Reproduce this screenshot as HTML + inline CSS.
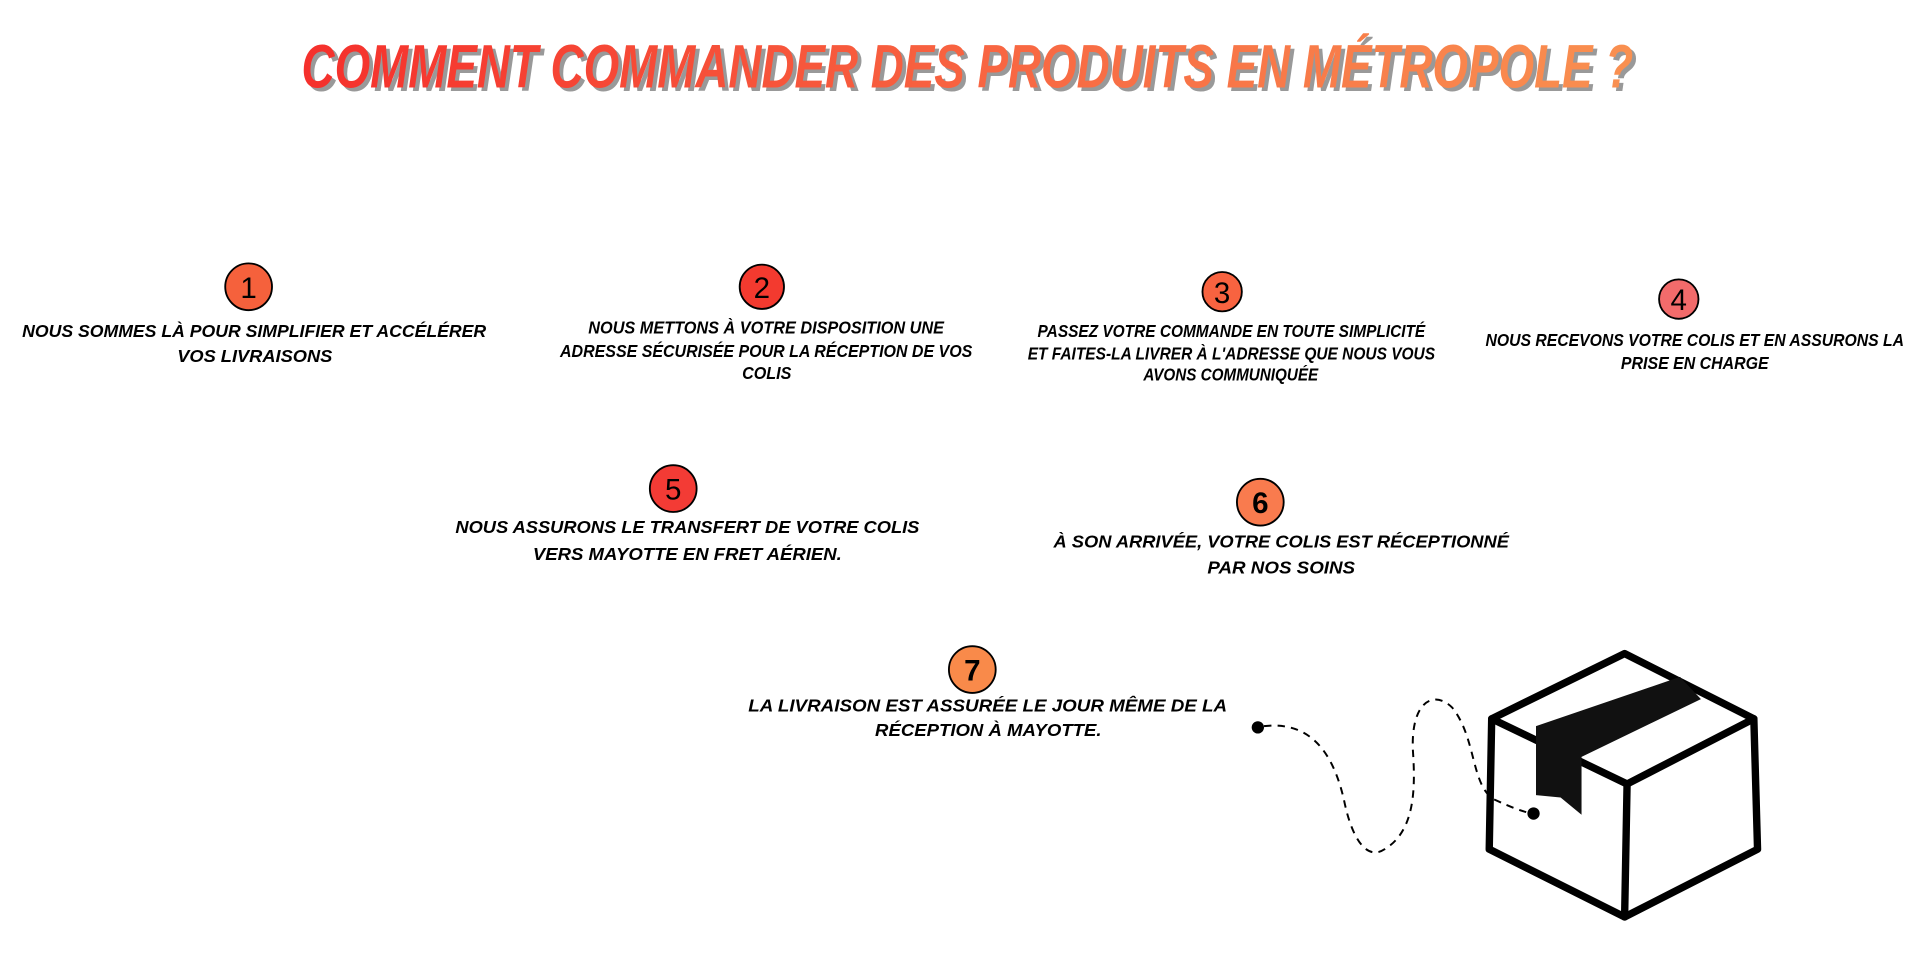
<!DOCTYPE html>
<html><head><meta charset="utf-8"><style>
html,body{margin:0;padding:0;background:#fff;width:1920px;height:960px;overflow:hidden}
svg{display:block}
.t{font-family:"Liberation Sans",sans-serif;font-weight:bold;font-style:italic;font-size:14px;fill:#000}
.n{font-family:"Liberation Sans",sans-serif;font-size:24px;fill:#000;text-anchor:middle}
</style></head><body>
<svg width="1920" height="960" viewBox="0 0 1560 780" preserveAspectRatio="none">
<defs>
<linearGradient id="g" x1="0" x2="1" y1="0" y2="0">
<stop offset="0" stop-color="#f5302c"/><stop offset="0.6" stop-color="#f86e45"/><stop offset="1" stop-color="#f99050"/>
</linearGradient>
</defs>
<text x="248" y="74" font-family="Liberation Sans,sans-serif" font-weight="bold" font-style="italic" font-size="50" fill="#999" textLength="1082" lengthAdjust="spacingAndGlyphs">COMMENT COMMANDER DES PRODUITS EN MÉTROPOLE ?</text>
<text x="245" y="71" font-family="Liberation Sans,sans-serif" font-weight="bold" font-style="italic" font-size="50" fill="url(#g)" textLength="1082" lengthAdjust="spacingAndGlyphs">COMMENT COMMANDER DES PRODUITS EN MÉTROPOLE ?</text>

<g stroke="#000" stroke-width="1.5">
<circle cx="202" cy="233" r="19" fill="#f5613c"/>
<circle cx="619" cy="233" r="18" fill="#f33a2f"/>
<circle cx="993" cy="237" r="16" fill="#f86340"/>
<circle cx="1364" cy="243" r="16" fill="#f26b6b"/>
<circle cx="547" cy="397" r="19" fill="#f33b35"/>
<circle cx="1024" cy="408" r="19" fill="#f97b4e"/>
<circle cx="790" cy="544" r="19" fill="#f98a4a"/>
</g>
<text class="n" x="202" y="242">1</text>
<text class="n" x="619" y="242">2</text>
<text class="n" x="993" y="246">3</text>
<text class="n" x="1364" y="252">4</text>
<text class="n" x="547" y="406">5</text>
<text class="n" x="1024" y="417" font-weight="bold">6</text>
<text class="n" x="790" y="553" font-weight="bold">7</text>

<text class="t" x="18" y="274" textLength="377" lengthAdjust="spacingAndGlyphs">NOUS SOMMES LÀ POUR SIMPLIFIER ET ACCÉLÉRER</text>
<text class="t" x="144" y="294" textLength="126" lengthAdjust="spacingAndGlyphs">VOS LIVRAISONS</text>
<text class="t" x="478" y="271" textLength="289" lengthAdjust="spacingAndGlyphs">NOUS METTONS À VOTRE DISPOSITION UNE</text>
<text class="t" x="455" y="290" textLength="335" lengthAdjust="spacingAndGlyphs">ADRESSE SÉCURISÉE POUR LA RÉCEPTION DE VOS</text>
<text class="t" x="603" y="308" textLength="40" lengthAdjust="spacingAndGlyphs">COLIS</text>
<text class="t" x="843" y="274" textLength="315" lengthAdjust="spacingAndGlyphs">PASSEZ VOTRE COMMANDE EN TOUTE SIMPLICITÉ</text>
<text class="t" x="835" y="292" textLength="331" lengthAdjust="spacingAndGlyphs">ET FAITES-LA LIVRER À L'ADRESSE QUE NOUS VOUS</text>
<text class="t" x="929" y="309" textLength="142" lengthAdjust="spacingAndGlyphs">AVONS COMMUNIQUÉE</text>
<text class="t" x="1207" y="281" textLength="340" lengthAdjust="spacingAndGlyphs">NOUS RECEVONS VOTRE COLIS ET EN ASSURONS LA</text>
<text class="t" x="1317" y="300" textLength="120" lengthAdjust="spacingAndGlyphs">PRISE EN CHARGE</text>
<text class="t" x="370" y="433" textLength="377" lengthAdjust="spacingAndGlyphs">NOUS ASSURONS LE TRANSFERT DE VOTRE COLIS</text>
<text class="t" x="433" y="455" textLength="251" lengthAdjust="spacingAndGlyphs">VERS MAYOTTE EN FRET AÉRIEN.</text>
<text class="t" x="856" y="445" textLength="370" lengthAdjust="spacingAndGlyphs">À SON ARRIVÉE, VOTRE COLIS EST RÉCEPTIONNÉ</text>
<text class="t" x="981" y="466" textLength="120" lengthAdjust="spacingAndGlyphs">PAR NOS SOINS</text>
<text class="t" x="608" y="578" textLength="389" lengthAdjust="spacingAndGlyphs">LA LIVRAISON EST ASSURÉE LE JOUR MÊME DE LA</text>
<text class="t" x="711" y="598" textLength="184" lengthAdjust="spacingAndGlyphs">RÉCEPTION À MAYOTTE.</text>

<circle cx="1022" cy="591" r="5" fill="#000"/>
<circle cx="1246" cy="661" r="5" fill="#000"/>
<path d="M1027 590 C1070 585 1085 620 1092 650 C1098 680 1110 700 1125 690 C1150 675 1150 640 1148 610 C1146 570 1165 560 1180 575 C1200 600 1195 640 1215 650 C1228 656 1238 660 1246 661" fill="none" stroke="#000" stroke-width="1.6" stroke-dasharray="6 5"/>

<g fill="none" stroke="#000" stroke-width="6" stroke-linejoin="round" stroke-linecap="round">
<path d="M1320 531 L1212 584 L1322 637 L1425 584 Z"/>
<path d="M1212 584 L1210 690 L1320 745 L1428 690 L1425 584"/>
<path d="M1322 637 L1320 745"/>
</g>
<path d="M1248 590 L1365 550 L1382 568 L1285 615 L1285 662 L1268 648 L1248 646 Z" fill="#111"/>
</svg>
</body></html>
